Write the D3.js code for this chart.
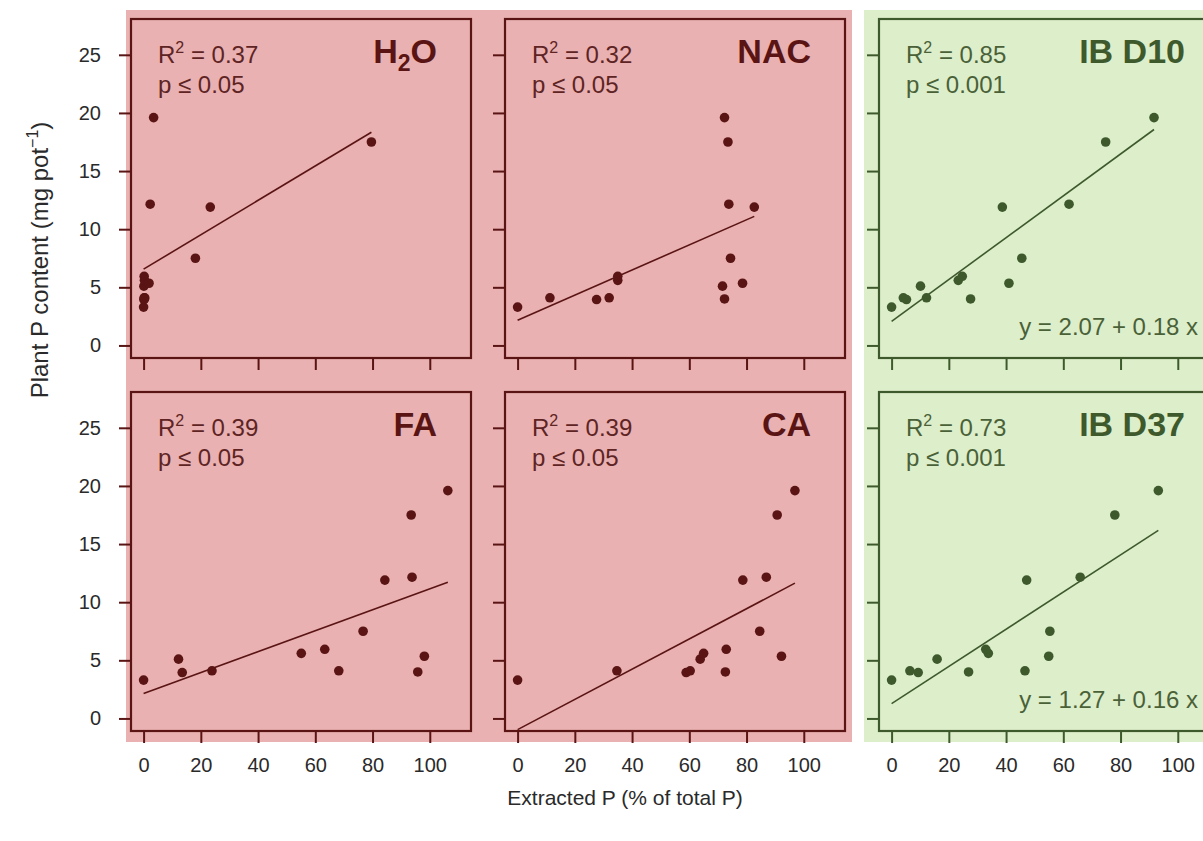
<!DOCTYPE html>
<html>
<head>
<meta charset="utf-8">
<script src="https://cdn.jsdelivr.net/npm/d3@7"></script>
<style>
  body { margin: 0; background: #fff; }
  svg { display: block; font-family: "Liberation Sans", Arial, Helvetica, sans-serif; }
</style>
</head>
<body>
<script>
const width = 1203
const height = 841

// plant P content (mg pot-1), same pots in every panel
const plantP = [3.3, 4.1, 3.95, 5.1, 4.1, 5.6, 5.95, 4.0, 11.9, 5.35, 7.5, 12.15, 17.5, 19.6]

// extracted P (% of total P) per extractant, same order as plantP
const xH2O = [0, 0.2, 0.1, 0.1, 0.4, 0.3, 0.2, 0.3, 23.3, 1.9, 18.1, 2.3, 79.6, 3.5]
const xNAC = [0, 11.3, 27.6, 71.6, 32.0, 35.0, 35.0, 72.3, 82.7, 78.6, 74.4, 73.8, 73.5, 72.3]
const xIBD10 = [0, 4.1, 5.2, 10.1, 12.2, 23.3, 24.7, 27.6, 38.7, 41.0, 45.5, 62.0, 74.8, 91.7]
const xFA = [0, 23.9, 13.5, 12.2, 68.2, 55.1, 63.3, 95.8, 84.3, 98.1, 76.7, 93.8, 93.5, 106.3]
const xCA = [0, 34.7, 58.9, 63.8, 60.3, 65.0, 72.9, 72.6, 78.7, 92.2, 84.6, 86.9, 90.7, 96.9]
const xIBD37 = [0, 6.4, 9.3, 15.9, 46.6, 33.8, 32.9, 26.9, 47.2, 54.9, 55.3, 65.9, 78.0, 93.2]

const panelNames = ["H2O", "NAC", "IB D10", "FA", "CA", "IB D37"]
const panelX = [xH2O, xNAC, xIBD10, xFA, xCA, xIBD37]
const r2Labels = ["0.37", "0.32", "0.85", "0.39", "0.39", "0.73"]
const pLabels = ["0.05", "0.05", "0.001", "0.05", "0.05", "0.001"]
const intercepts = [6.56, 2.17, 2.07, 2.15, -0.96, 1.27]
const slopes = [0.148, 0.108, 0.18, 0.09, 0.13, 0.16]
const equations = [null, null, "y =  2.07 + 0.18 x", null, null, "y =  1.27 + 0.16 x"]

const xTicks = [0, 20, 40, 60, 80, 100]
const yTicks = [0, 5, 10, 15, 20, 25]

const pink = {bg: "#e9b1b1", ink: "#5a1414", text: "#5e2424"}
const green = {bg: "#ddeecb", ink: "#3e5a2c", text: "#4a6138"}

const boxW = 340, boxH = 339
const colLeft = [131, 505, 879]
const rowTop = [19, 392]

const svg = d3.select("body").append("svg").attr("width", width).attr("height", height)

// background blocks
svg.append("rect").attr("x", 126).attr("y", 10).attr("width", 726).attr("height", 732).attr("fill", pink.bg)
svg.append("rect").attr("x", 864).attr("y", 10).attr("width", 360).attr("height", 732).attr("fill", green.bg)

panelNames.forEach((name, i) => {
  const col = i % 3, row = Math.floor(i / 3)
  const pal = col === 2 ? green : pink
  const left = colLeft[col], top = rowTop[row]

  const x = d3.scaleLinear().domain([-4.4, 114.4]).range([left, left + boxW])
  const y = d3.scaleLinear().domain([-1.08, 28.08]).range([top + boxH, top])

  const g = svg.append("g")

  // axes
  const ya = g.append("g").attr("transform", `translate(${left},0)`)
    .call(d3.axisLeft(y).tickValues(yTicks).tickSize(12).tickPadding(18).tickFormat(col === 0 ? d3.format("d") : () => ""))
  const xa = g.append("g").attr("transform", `translate(0,${top + boxH})`)
    .call(d3.axisBottom(x).tickValues(xTicks).tickSize(12).tickPadding(15).tickFormat(row === 1 ? d3.format("d") : () => ""))
  ;[ya, xa].forEach(a => {
    a.select(".domain").remove()
    a.selectAll("line").attr("stroke", pal.ink).attr("stroke-width", 2)
    a.selectAll("text").attr("fill", "#2a2a2a").style("font-size", "20px")
  })

  // box
  g.append("rect").attr("x", left).attr("y", top).attr("width", boxW).attr("height", boxH)
    .attr("fill", "none").attr("stroke", pal.ink).attr("stroke-width", 2.2)

  // regression line over the data range
  const xs = panelX[i]
  const ext = d3.extent(xs)
  g.append("line")
    .attr("x1", x(ext[0])).attr("y1", y(intercepts[i] + slopes[i] * ext[0]))
    .attr("x2", x(ext[1])).attr("y2", y(intercepts[i] + slopes[i] * ext[1]))
    .attr("stroke", pal.ink).attr("stroke-width", 1.6)

  // points
  g.selectAll("circle").data(xs).join("circle")
    .attr("cx", d => x(d)).attr("cy", (d, j) => y(plantP[j]))
    .attr("r", 4.8).attr("fill", pal.ink)

  // stats
  const r2 = g.append("text").attr("x", left + 27).attr("y", top + 44)
    .attr("fill", pal.text).style("font-size", "24px")
  r2.append("tspan").text("R")
  r2.append("tspan").attr("dy", -10).style("font-size", "16px").text("2")
  r2.append("tspan").attr("dy", 10).text(" =  " + r2Labels[i])
  g.append("text").attr("x", left + 27).attr("y", top + 74)
    .attr("fill", pal.text).style("font-size", "24px")
    .text("p \u2264  " + pLabels[i])

  // title
  const t = g.append("text").attr("x", left + boxW - 34).attr("y", top + 44)
    .attr("text-anchor", "end").attr("fill", pal.ink)
    .style("font-size", "34px").style("font-weight", "bold")
  if (name === "H2O") {
    t.append("tspan").text("H")
    t.append("tspan").attr("dy", 8).style("font-size", "23px").text("2")
    t.append("tspan").attr("dy", -8).text("O")
  } else {
    t.text(name)
  }

  if (equations[i]) {
    g.append("text").attr("x", left + boxW - 21).attr("y", top + boxH - 23)
      .attr("text-anchor", "end").attr("fill", pal.text).style("font-size", "24px")
      .text(equations[i])
  }
})

// axis titles
const yl = svg.append("text").attr("transform", "translate(48,260) rotate(-90)")
  .attr("text-anchor", "middle").attr("fill", "#2a2a2a").style("font-size", "24px")
yl.append("tspan").text("Plant P content  (mg pot")
yl.append("tspan").attr("dy", -10).style("font-size", "16px").text("\u22121")
yl.append("tspan").attr("dy", 10).text(")")

svg.append("text").attr("x", 625).attr("y", 805).attr("text-anchor", "middle")
  .attr("fill", "#2a2a2a").style("font-size", "21px")
  .text("Extracted P (% of total P)")
</script>
</body>
</html>
